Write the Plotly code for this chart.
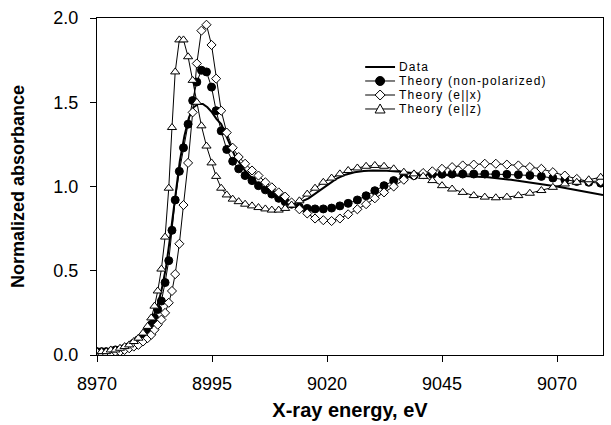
import plotly.graph_objects as go

# ---------------- data ----------------
energy_theory = [8970, 8971, 8972, 8973, 8974, 8975, 8976, 8977, 8978, 8979,
                 8980, 8981, 8981.8, 8982.5, 8983.2, 8984.0, 8984.8, 8985.6, 8986.3, 8987.0,
                 8987.9, 8988.8, 8989.8, 8990.8, 8991.7, 8992.7, 8993.8, 8994.9, 8995.9, 8997.0,
                 8998.2, 8999.5, 9000.8, 9002.2, 9003.7, 9005.1, 9006.6, 9008.0, 9009.5, 9010.9,
                 9012.3, 9014.0, 9015.7, 9017.4, 9019.2, 9021.0, 9022.8, 9024.6, 9026.6, 9028.5,
                 9030.4, 9032.4, 9034.5, 9036.7, 9038.9, 9040.9, 9042.9, 9045.0, 9047.2, 9049.5,
                 9051.9, 9054.3, 9056.7, 9059.1, 9061.6, 9064.1, 9066.6, 9069.1, 9071.7, 9074.3,
                 9076.9, 9079.5, 9082.1]

theory_nonpol = [0.02, 0.02, 0.02, 0.02, 0.03, 0.03, 0.04, 0.05, 0.07, 0.09,
                 0.11, 0.14, 0.18, 0.22, 0.27, 0.32, 0.43, 0.56, 0.74, 0.92,
                 1.09, 1.23, 1.37, 1.51, 1.62, 1.69, 1.68, 1.59, 1.45, 1.33,
                 1.22, 1.15, 1.105, 1.065, 1.035, 1.005, 0.98, 0.955, 0.93, 0.91,
                 0.895, 0.878, 0.87, 0.867, 0.867, 0.872, 0.885, 0.90, 0.92, 0.945,
                 0.975, 1.005, 1.035, 1.055, 1.065, 1.07, 1.072, 1.073, 1.074, 1.074,
                 1.074, 1.074, 1.073, 1.072, 1.07, 1.066, 1.06, 1.05, 1.04, 1.03,
                 1.025, 1.02, 1.015]

theory_ex = [0.01, 0.01, 0.01, 0.01, 0.02, 0.02, 0.03, 0.04, 0.05, 0.06,
             0.08, 0.10, 0.12, 0.15, 0.18, 0.21, 0.25, 0.31, 0.38, 0.48,
             0.66, 0.89, 1.14, 1.44, 1.73, 1.925, 1.96, 1.84, 1.64, 1.45,
             1.32, 1.23, 1.175, 1.135, 1.095, 1.065, 1.025, 0.995, 0.965, 0.94,
             0.905, 0.865, 0.84, 0.81, 0.80, 0.795, 0.81, 0.835, 0.865, 0.895,
             0.93, 0.965, 1.0, 1.04, 1.065, 1.08, 1.09, 1.105, 1.115, 1.125,
             1.13, 1.135, 1.135, 1.13, 1.125, 1.115, 1.105, 1.085, 1.065, 1.045,
             1.03, 1.03, 1.035]

theory_ez = [0.02, 0.02, 0.02, 0.03, 0.03, 0.04, 0.05, 0.06, 0.08, 0.10,
             0.13, 0.17, 0.22, 0.29, 0.38, 0.51, 0.70, 0.99, 1.35, 1.68,
             1.87, 1.87, 1.77, 1.63, 1.50, 1.36, 1.24, 1.14, 1.06, 0.99,
             0.95, 0.925, 0.91, 0.895, 0.885, 0.875, 0.867, 0.86, 0.86, 0.87,
             0.89, 0.915, 0.955, 0.99, 1.025, 1.05, 1.075, 1.095, 1.11, 1.12,
             1.125, 1.12, 1.105, 1.085, 1.075, 1.06, 1.035, 1.005, 0.985, 0.965,
             0.946, 0.937, 0.933, 0.937, 0.946, 0.96, 0.976, 0.995, 1.015, 1.025,
             1.04, 1.055, 1.07]

energy_data = [8970, 8972, 8974, 8976, 8978, 8980, 8981, 8982, 8983, 8984,
               8985, 8986, 8987, 8988, 8989, 8990, 8991, 8992, 8993, 8994,
               8995, 8996, 8997, 8998, 8999, 9000, 9002, 9004, 9006, 9008,
               9010, 9012, 9014, 9016, 9018, 9020, 9022, 9024, 9026, 9028,
               9030, 9033, 9036, 9040, 9045, 9050, 9055, 9060, 9065, 9070,
               9075, 9080]
absorbance_data = [0.00, 0.01, 0.02, 0.04, 0.07, 0.12, 0.16, 0.21, 0.28, 0.38,
                   0.52, 0.72, 0.95, 1.15, 1.30, 1.41, 1.47, 1.49, 1.49, 1.47,
                   1.44, 1.40, 1.37, 1.31, 1.24, 1.18, 1.10, 1.04, 0.99, 0.955,
                   0.925, 0.905, 0.905, 0.93, 0.97, 1.01, 1.045, 1.07, 1.085, 1.092,
                   1.095, 1.093, 1.088, 1.075, 1.068, 1.062, 1.055, 1.04, 1.02, 1.0,
                   0.975, 0.95]

series_names = ["Data", "Theory (non-polarized)", "Theory (e||x)", "Theory (e||z)"]
x_ticks = [8970, 8995, 9020, 9045, 9070]
y_ticks = [0.0, 0.5, 1.0, 1.5, 2.0]

assert len(energy_theory) == len(theory_nonpol) == len(theory_ex) == len(theory_ez)
assert len(energy_data) == len(absorbance_data)

FONT = "Liberation Sans, Arial, sans-serif"

fig = go.Figure()
fig.add_trace(go.Scatter(x=energy_data, y=absorbance_data, mode="lines",
                         name=series_names[0], line=dict(color="black", width=2)))
fig.add_trace(go.Scatter(x=energy_theory, y=theory_nonpol, mode="lines+markers",
                         name=series_names[1], line=dict(color="black", width=1),
                         marker=dict(symbol="circle", size=8, color="black",
                                     line=dict(color="black", width=1))))
fig.add_trace(go.Scatter(x=energy_theory, y=theory_ex, mode="lines+markers",
                         name=series_names[2], line=dict(color="black", width=1),
                         marker=dict(symbol="diamond", size=7, color="white",
                                     line=dict(color="black", width=1))))
fig.add_trace(go.Scatter(x=energy_theory, y=theory_ez, mode="lines+markers",
                         name=series_names[3], line=dict(color="black", width=1),
                         marker=dict(symbol="triangle-up", size=8, color="white",
                                     line=dict(color="black", width=1))))

# ---------------- hand-made compact legend ----------------
leg_x0, leg_x1, leg_mid, leg_text = 0.530, 0.589, 0.5595, 0.593
leg_rows = [0.8546, 0.8131, 0.7715, 0.730]
shapes = []
annotations = []
line_widths = [2, 1, 1, 1]
for i, (name, yy) in enumerate(zip(series_names, leg_rows)):
    shapes.append(dict(type="line", xref="paper", yref="paper", x0=leg_x0, x1=leg_x1,
                       y0=yy, y1=yy, line=dict(color="black", width=line_widths[i])))
    annotations.append(dict(text='<span style="letter-spacing:1.2px">%s</span>' % name,
                            xref="paper", yref="paper", x=leg_text, y=yy,
                            xanchor="left", yanchor="middle", showarrow=False,
                            font=dict(family=FONT, size=12, color="black")))
common = dict(xref="paper", yref="paper", xsizemode="pixel", ysizemode="pixel",
              xanchor=leg_mid, line=dict(color="black", width=1))
shapes.append(dict(type="circle", yanchor=leg_rows[1], x0=-4.5, x1=4.5, y0=-4.5, y1=4.5,
                   fillcolor="black", **common))
shapes.append(dict(type="path", yanchor=leg_rows[2], path="M0,5 L5,0 L0,-5 L-5,0 Z",
                   fillcolor="white", **common))
shapes.append(dict(type="path", yanchor=leg_rows[3], path="M-5,-4 L5,-4 L0,5 Z",
                   fillcolor="white", **common))

fig.update_layout(
    width=611, height=425,
    margin=dict(l=97, r=8, t=18, b=70, autoexpand=False),
    paper_bgcolor="white", plot_bgcolor="white",
    showlegend=False,
    font=dict(family=FONT, size=18, color="black"),
    shapes=shapes, annotations=annotations,
)
fig.update_xaxes(range=[8970, 9080], tickvals=x_ticks, ticks="outside", ticklen=6,
                 tickcolor="black", showline=True, linecolor="black", linewidth=1,
                 mirror=True, showgrid=False, zeroline=False, ticklabelstandoff=6,
                 tickfont=dict(size=18),
                 title=dict(text="<b>X-ray energy, eV</b>", font=dict(size=20), standoff=10))
fig.update_yaxes(range=[0, 2.0], tickvals=y_ticks, tickformat=".1f", ticks="outside",
                 ticklen=6, tickcolor="black", showline=True, linecolor="black", linewidth=1,
                 mirror=True, showgrid=False, zeroline=False, ticklabelstandoff=8,
                 tickfont=dict(size=18),
                 title=dict(text="<b>Normalized absorbance</b>", font=dict(size=18), standoff=24))

fig.write_html("out.html")
